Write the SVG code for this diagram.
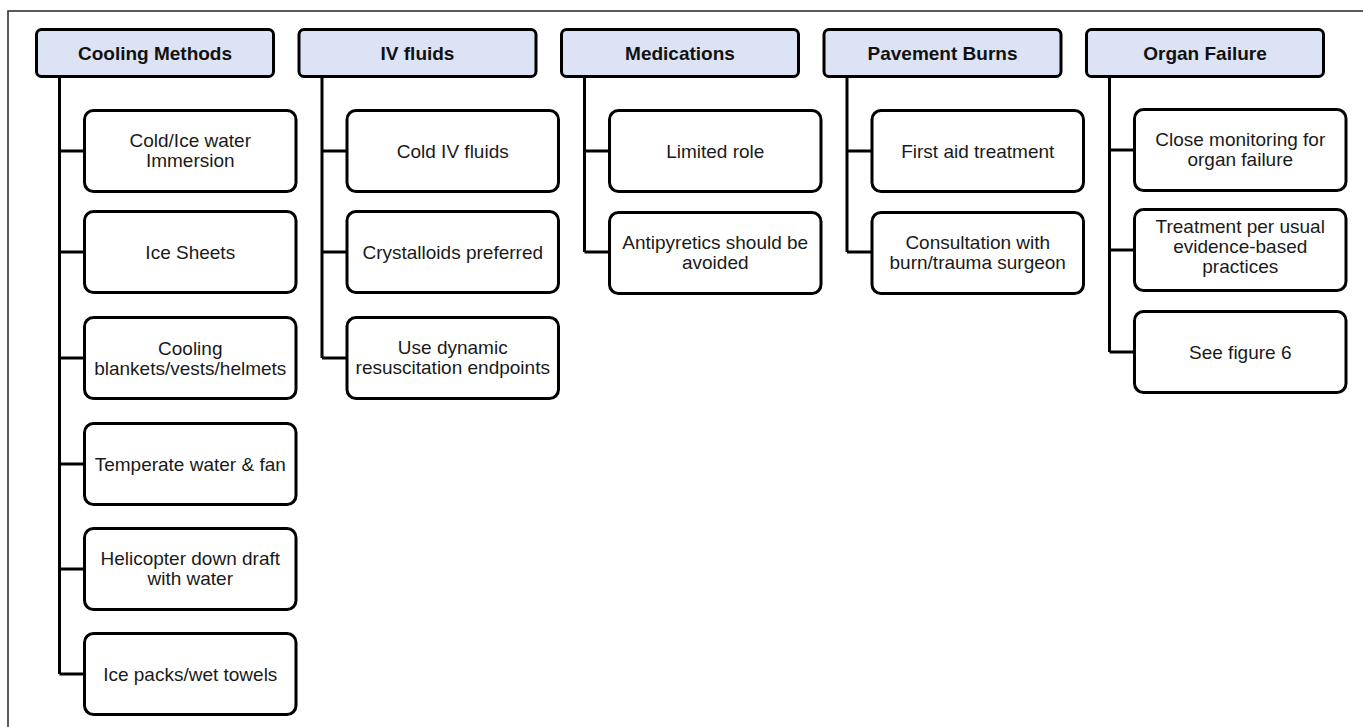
<svg xmlns="http://www.w3.org/2000/svg" width="1363" height="727" viewBox="0 0 1363 727">
<style>
.hdr{fill:#dbe3f4;stroke:#000;stroke-width:3}
.box{fill:#fff;stroke:#000;stroke-width:3}
.ht{font-family:"Liberation Sans",Arial,sans-serif;font-size:19px;font-weight:bold;fill:#111;text-anchor:middle}
.bt{font-family:"Liberation Sans",Arial,sans-serif;font-size:19px;fill:#1a1a1a;text-anchor:middle}
.con{fill:none;stroke:#000;stroke-width:3}
</style>
<rect x="0" y="0" width="1363" height="727" fill="#fff"/>
<rect x="8" y="11" width="1370" height="730" fill="none" stroke="#333" stroke-width="1.6"/>
<g id="connectors">
<path class="con" d="M59.5 78 V674 M59.5 151 H84 M59.5 252 H84 M59.5 358 H84 M59.5 464 H84 M59.5 569 H84 M59.5 674 H84"/>
<path class="con" d="M322 78 V358 M322 151 H346 M322 252 H346 M322 358 H346"/>
<path class="con" d="M584.5 78 V252 M584.5 151 H609 M584.5 252 H609"/>
<path class="con" d="M847 78 V252 M847 151 H871 M847 252 H871"/>
<path class="con" d="M1109.5 78 V352 M1109.5 150 H1134 M1109.5 250 H1134 M1109.5 352 H1134"/>
</g>
<g id="h-cooling"><rect class="hdr" x="36.5" y="29.5" width="237" height="47" rx="5"/><text class="ht" x="155" y="60">Cooling Methods</text></g>
<g id="h-iv"><rect class="hdr" x="299" y="29.5" width="237" height="47" rx="5"/><text class="ht" x="417.5" y="60">IV fluids</text></g>
<g id="h-med"><rect class="hdr" x="561.5" y="29.5" width="237" height="47" rx="5"/><text class="ht" x="680" y="60">Medications</text></g>
<g id="h-pav"><rect class="hdr" x="824" y="29.5" width="237" height="47" rx="5"/><text class="ht" x="942.5" y="60">Pavement Burns</text></g>
<g id="h-org"><rect class="hdr" x="1086.5" y="29.5" width="237" height="47" rx="5"/><text class="ht" x="1205" y="60">Organ Failure</text></g>

<g id="c1"><rect class="box" x="84.5" y="110.5" width="211.5" height="81" rx="9"/><text class="bt" x="190.25" y="147">Cold/Ice water</text><text class="bt" x="190.25" y="167">Immersion</text></g>
<g id="c2"><rect class="box" x="84.5" y="211.5" width="211.5" height="81" rx="9"/><text class="bt" x="190.25" y="259">Ice Sheets</text></g>
<g id="c3"><rect class="box" x="84.5" y="317.5" width="211.5" height="81" rx="9"/><text class="bt" x="190.25" y="355">Cooling</text><text class="bt" x="190.25" y="374.5">blankets/vests/helmets</text></g>
<g id="c4"><rect class="box" x="84.5" y="423.5" width="211.5" height="81" rx="9"/><text class="bt" x="190.25" y="471">Temperate water &amp; fan</text></g>
<g id="c5"><rect class="box" x="84.5" y="528.5" width="211.5" height="81" rx="9"/><text class="bt" x="190.25" y="565">Helicopter down draft</text><text class="bt" x="190.25" y="585">with water</text></g>
<g id="c6"><rect class="box" x="84.5" y="633.5" width="211.5" height="81" rx="9"/><text class="bt" x="190.25" y="681">Ice packs/wet towels</text></g>

<g id="iv1"><rect class="box" x="347" y="110.5" width="211.5" height="81" rx="9"/><text class="bt" x="452.75" y="158">Cold IV fluids</text></g>
<g id="iv2"><rect class="box" x="347" y="211.5" width="211.5" height="81" rx="9"/><text class="bt" x="452.75" y="259">Crystalloids preferred</text></g>
<g id="iv3"><rect class="box" x="347" y="317.5" width="211.5" height="81" rx="9"/><text class="bt" x="452.75" y="354">Use dynamic</text><text class="bt" x="452.75" y="374">resuscitation endpoints</text></g>

<g id="m1"><rect class="box" x="609.5" y="110.5" width="211.5" height="81" rx="9"/><text class="bt" x="715.25" y="158">Limited role</text></g>
<g id="m2"><rect class="box" x="609.5" y="212.5" width="211.5" height="81" rx="9"/><text class="bt" x="715.25" y="249">Antipyretics should be</text><text class="bt" x="715.25" y="269">avoided</text></g>

<g id="p1"><rect class="box" x="872" y="110.5" width="211.5" height="81" rx="9"/><text class="bt" x="977.75" y="158">First aid treatment</text></g>
<g id="p2"><rect class="box" x="872" y="212.5" width="211.5" height="81" rx="9"/><text class="bt" x="977.75" y="249">Consultation with</text><text class="bt" x="977.75" y="269">burn/trauma surgeon</text></g>

<g id="o1"><rect class="box" x="1134.5" y="109.5" width="211.5" height="81" rx="9"/><text class="bt" x="1240.25" y="146">Close monitoring for</text><text class="bt" x="1240.25" y="166">organ failure</text></g>
<g id="o2"><rect class="box" x="1134.5" y="209.5" width="211.5" height="81" rx="9"/><text class="bt" x="1240.25" y="233">Treatment per usual</text><text class="bt" x="1240.25" y="253">evidence-based</text><text class="bt" x="1240.25" y="273">practices</text></g>
<g id="o3"><rect class="box" x="1134.5" y="311.5" width="211.5" height="81" rx="9"/><text class="bt" x="1240.25" y="359">See figure 6</text></g>
</svg>
